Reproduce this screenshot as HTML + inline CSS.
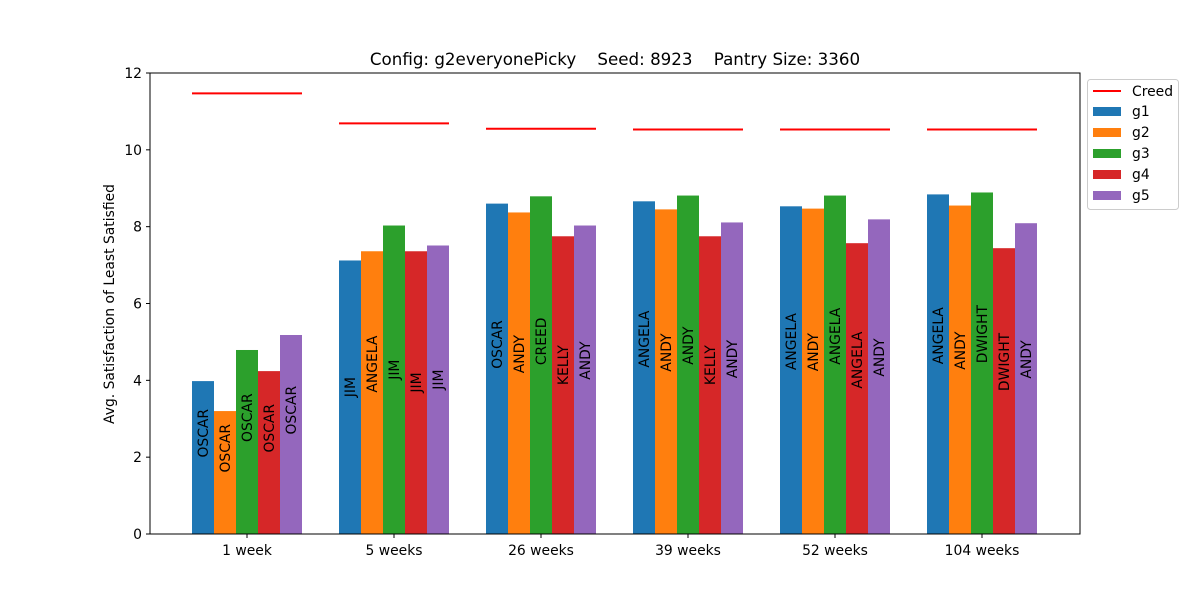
<!DOCTYPE html>
<html><head><meta charset="utf-8"><style>
body{margin:0;background:#fff}
svg{display:block;font-family:"DejaVu Sans","Liberation Sans",sans-serif}
</style></head><body>
<svg id="chart" width="1200" height="600">
<rect width="1200" height="600" fill="#fff"/>
<text x="615" y="65" text-anchor="middle" font-size="16.7" style="white-space:pre">Config: g2everyonePicky    Seed: 8923    Pantry Size: 3360</text>
<g id="plot"></g>
<rect x="150" y="73" width="930" height="461" fill="none" stroke="#000" stroke-width="1"/>
<text transform="translate(114,304) rotate(-90)" text-anchor="middle" font-size="13.9">Avg. Satisfaction of Least Satisfied</text>
<g>
<rect x="1087.5" y="79.5" width="91" height="130" rx="3" fill="#fff" stroke="#ccc"/>
<g id="legend-items"></g>
</g>
</svg>
<script>
const categories=["1 week","5 weeks","26 weeks","39 weeks","52 weeks","104 weeks"];
const seriesNames=["g1","g2","g3","g4","g5"];
const colors=["#1f77b4","#ff7f0e","#2ca02c","#d62728","#9467bd"];
const g1=[3.98,7.12,8.6,8.66,8.53,8.84];
const g2=[3.2,7.36,8.37,8.45,8.47,8.55];
const g3=[4.79,8.03,8.79,8.81,8.81,8.89];
const g4=[4.24,7.36,7.75,7.75,7.57,7.44];
const g5=[5.18,7.51,8.03,8.11,8.19,8.09];
const creed=[11.47,10.69,10.55,10.53,10.53,10.53];
const l1=["OSCAR","JIM","OSCAR","ANGELA","ANGELA","ANGELA"];
const l2=["OSCAR","ANGELA","ANDY","ANDY","ANDY","ANDY"];
const l3=["OSCAR","JIM","CREED","ANDY","ANGELA","DWIGHT"];
const l4=["OSCAR","JIM","KELLY","KELLY","ANGELA","DWIGHT"];
const l5=["OSCAR","JIM","ANDY","ANDY","ANDY","ANDY"];
const yTicks=[0,2,4,6,8,10,12];
const series=[g1,g2,g3,g4,g5];
const labels=[l1,l2,l3,l4,l5];
const NS="http://www.w3.org/2000/svg";
const y0=534,yPer=461/12;
function yS(v){return y0-v*yPer;}
function xS(i){return 247+147*i;}
const barW=22;
const plot=document.getElementById('plot');
function mk(t,a,p){const e=document.createElementNS(NS,t);for(const k in a)e.setAttribute(k,a[k]);(p||plot).appendChild(e);return e;}
yTicks.forEach(v=>{
 const t=mk('line',{x1:146,x2:150,y1:yS(v),y2:yS(v),stroke:'#000'});
 
 
 const tx=mk('text',{x:142,y:yS(v)+5,'text-anchor':'end','font-size':13.9});
 tx.textContent=v;
 
 
});
categories.forEach((c,i)=>{
 const t=mk('line',{x1:xS(i),x2:xS(i),y1:534,y2:538,stroke:'#000'});
 
 
 const tx=mk('text',{x:xS(i),y:555,'text-anchor':'middle','font-size':13.9});
 tx.textContent=c;
 
 
 series.forEach((s,j)=>{
  const bx=xS(i)-2.5*barW+j*barW;
  const r=mk('rect',{x:bx,y:yS(s[i]),width:barW,height:y0-yS(s[i]),fill:colors[j]});
  
  
  const lt=mk('text',{transform:`translate(${bx+barW/2+5},${yS(s[i]/2)}) rotate(-90)`,'font-size':13.9});
  lt.textContent=labels[j][i];
  
  
 });
 const cl=mk('line',{x1:xS(i)-2.5*barW,x2:xS(i)+2.5*barW,y1:yS(creed[i]),y2:yS(creed[i]),stroke:'#ff0000','stroke-width':2});
 
 
});
const lg=document.getElementById('legend-items');
const ln=mk('line',{x1:1093,x2:1121,y1:91,y2:91,stroke:'#ff0000','stroke-width':2},lg);


const lt0=mk('text',{x:1132,y:96,'font-size':13.9},lg);
lt0.textContent='Creed';


seriesNames.forEach((n,j)=>{
 const yy=107+j*21;
 const r=mk('rect',{x:1093,y:yy,width:28,height:9,fill:colors[j]},lg);
 
 
 const t=mk('text',{x:1132,y:yy+9,'font-size':13.9},lg);
 t.textContent=n;
 
 
});
</script>
</body></html>
